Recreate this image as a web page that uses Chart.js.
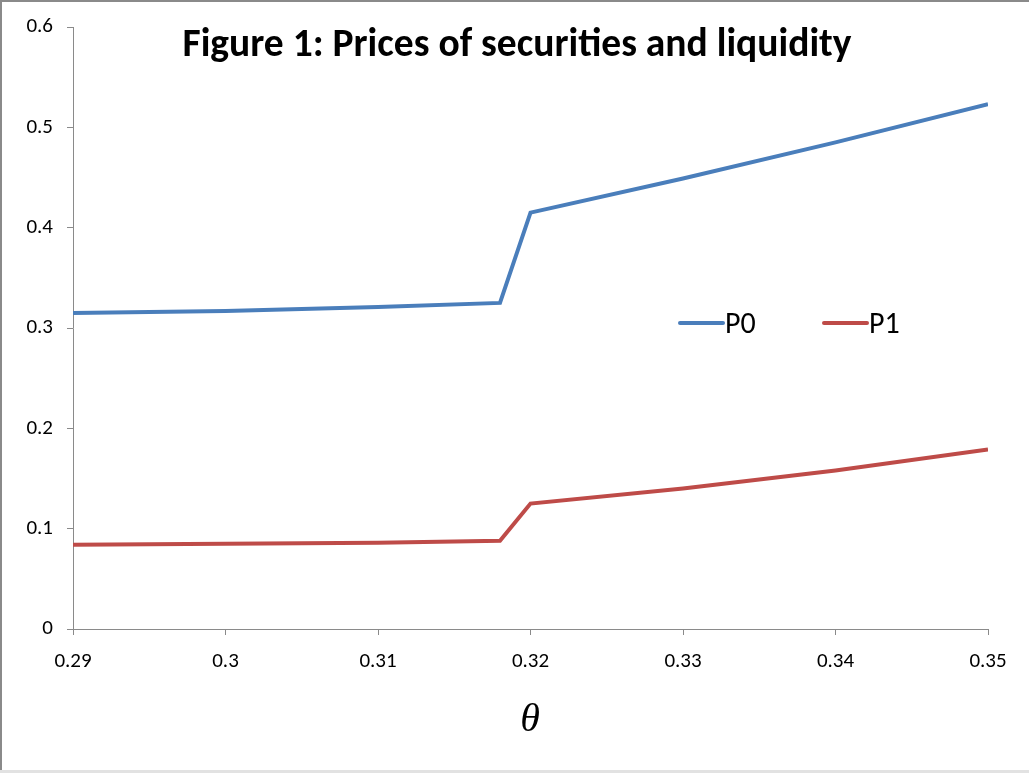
<!DOCTYPE html>
<html>
<head>
<meta charset="utf-8">
<script src="https://cdn.jsdelivr.net/npm/chart.js@4"></script>
<style>
  body { margin: 0; background: #fff; }
  #wrap { position: relative; width: 1029px; height: 773px; }
</style>
</head>
<body>
<div id="wrap"><canvas id="chart" width="1029" height="773"></canvas></div>
<script>
// Data
const thetaValues = [0.29, 0.30, 0.31, 0.318, 0.32, 0.33, 0.34, 0.35];
const p0Values = [0.315, 0.317, 0.321, 0.325, 0.415, 0.449, 0.485, 0.523];
const p1Values = [0.084, 0.085, 0.086, 0.088, 0.125, 0.140, 0.158, 0.179];
const xTicks = [0.29, 0.30, 0.31, 0.32, 0.33, 0.34, 0.35];
const yTicks = [0, 0.1, 0.2, 0.3, 0.4, 0.5, 0.6];
const seriesNames = ['P0', 'P1'];
const chartTitle = 'Figure 1: Prices of securities and liquidity';
const xAxisTitle = '\u03B8';

const colors = ['#4A7EBB', '#BE4B48'];
const labelFont = "Calibri, Carlito, 'Open Sans', sans-serif";

function toPoints(xs, ys) {
    return xs.map((x, i) => ({ x: x, y: ys[i] }));
}

// Title, legend, axis title and frame drawn on top
const overlayPlugin = {
    id: 'overlay',
    afterDraw(chart) {
        const ctx = chart.ctx;
        ctx.save();

        // frame
        ctx.fillStyle = '#8a8a8a';
        ctx.fillRect(0, 0, chart.width, 2);
        ctx.fillRect(0, 0, 2, chart.height);
        ctx.fillStyle = '#e2e2e2';
        ctx.fillRect(0, chart.height - 3, chart.width, 3);

        // title, fitted to the width seen in the figure
        let size = 32;
        ctx.font = `bold ${size}px ${labelFont}`;
        const w = ctx.measureText(chartTitle).width;
        size = size * 669 / w;
        ctx.font = `bold ${size}px ${labelFont}`;
        ctx.fillStyle = '#000';
        ctx.textAlign = 'center';
        ctx.textBaseline = 'middle';
        ctx.fillText(chartTitle, 517, 46);

        // legend
        const legendY = 323;
        const legendX = [680, 824];
        ctx.font = `30px ${labelFont}`;
        ctx.textAlign = 'left';
        chart.data.datasets.forEach((ds, i) => {
            ctx.strokeStyle = ds.borderColor;
            ctx.lineWidth = 4;
            ctx.lineCap = 'round';
            ctx.beginPath();
            ctx.moveTo(legendX[i], legendY);
            ctx.lineTo(legendX[i] + 43, legendY);
            ctx.stroke();
            ctx.fillStyle = '#000';
            ctx.fillText(ds.label, legendX[i] + 45, legendY + 2);
        });

        // x axis title
        ctx.font = "italic 40px 'Liberation Serif', 'DejaVu Serif', serif";
        ctx.textAlign = 'center';
        ctx.fillText(xAxisTitle, 530, 720);

        ctx.restore();
    }
};

new Chart(document.getElementById('chart'), {
    type: 'line',
    data: {
        datasets: [
            {
                label: seriesNames[0],
                data: toPoints(thetaValues, p0Values),
                borderColor: colors[0],
                backgroundColor: colors[0],
                borderWidth: 4,
                pointRadius: 0,
                tension: 0,
                fill: false
            },
            {
                label: seriesNames[1],
                data: toPoints(thetaValues, p1Values),
                borderColor: colors[1],
                backgroundColor: colors[1],
                borderWidth: 4,
                pointRadius: 0,
                tension: 0,
                fill: false
            }
        ]
    },
    options: {
        responsive: false,
        animation: false,
        layout: { padding: { top: 27, right: 41, left: 0, bottom: 0 } },
        plugins: {
            legend: { display: false },
            title: { display: false },
            tooltip: { enabled: false }
        },
        scales: {
            x: {
                type: 'linear',
                min: 0.29,
                max: 0.35,
                afterFit(scale) { scale.height = 144; },
                afterBuildTicks(scale) { scale.ticks = xTicks.map(v => ({ value: v })); },
                grid: { drawOnChartArea: false, drawTicks: true, tickLength: 6, color: '#8a8a8a' },
                border: { display: true, color: '#8a8a8a', width: 1 },
                ticks: {
                    padding: 14,
                    color: '#000',
                    font: { size: 21, family: labelFont },
                    callback: v => String(Math.round(v * 100) / 100)
                }
            },
            y: {
                min: 0,
                max: 0.6,
                afterFit(scale) { scale.width = 73; },
                afterBuildTicks(scale) { scale.ticks = yTicks.map(v => ({ value: v })); },
                grid: { drawOnChartArea: false, drawTicks: true, tickLength: 6, color: '#8a8a8a' },
                border: { display: true, color: '#8a8a8a', width: 1 },
                ticks: {
                    padding: 14,
                    color: '#000',
                    font: { size: 21, family: labelFont },
                    callback: v => String(Math.round(v * 10) / 10)
                }
            }
        }
    },
    plugins: [overlayPlugin]
});
</script>
</body>
</html>
